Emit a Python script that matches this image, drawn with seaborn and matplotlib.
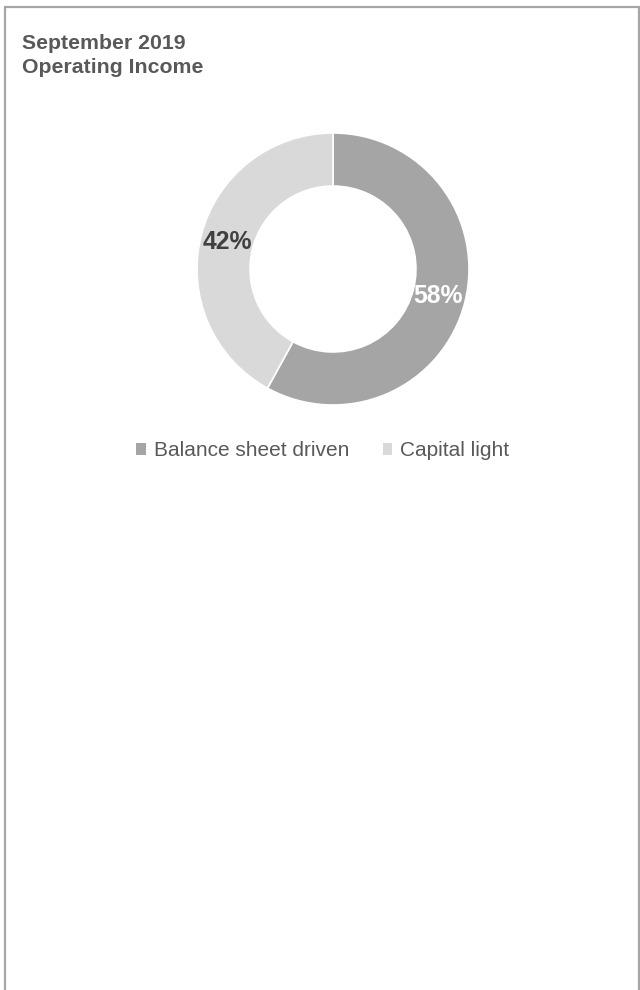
import matplotlib
matplotlib.use("Agg")
import matplotlib.pyplot as plt
from matplotlib.lines import Line2D
from matplotlib.patches import Rectangle
import seaborn as sns

sns.set_theme(style="white")
plt.rcParams['font.family'] = ['Liberation Sans', 'DejaVu Sans']

title_lines = ["September 2019", "Operating Income"]
categories = ["Balance sheet driven", "Capital light"]
values = [58, 42]
labels = ["58%", "42%"]
colors = ["#A5A5A5", "#D9D9D9"]
label_colors = ["#FFFFFF", "#404040"]

W, H, DPI = 640, 990, 100
fig = plt.figure(figsize=(W / DPI, H / DPI), dpi=DPI)
fig.patch.set_facecolor("white")

# frame (left, top, right; open at the bottom)
bc = "#A6A6A6"
fig.add_artist(Line2D([4.5 / W, 4.5 / W], [0, 1 - 7 / H], color=bc, lw=1.6))
fig.add_artist(Line2D([4.5 / W, 638.5 / W], [1 - 7 / H, 1 - 7 / H], color=bc, lw=1.6))
fig.add_artist(Line2D([638.5 / W, 638.5 / W], [0, 1 - 7 / H], color=bc, lw=1.6))

fig.text(22 / W, 1 - 49 / H, title_lines[0], fontsize=15.3, fontweight="bold", color="#595959")
fig.text(22 / W, 1 - 73 / H, title_lines[1], fontsize=15.3, fontweight="bold", color="#595959")

cx, cy, R = 333, 269, 136
ax = fig.add_axes([(cx - R) / W, 1 - (cy + R) / H, 2 * R / W, 2 * R / H])
wedges, texts = ax.pie(values, colors=colors, startangle=90, counterclock=False,
                       labels=labels, labeldistance=0.8,
                       wedgeprops=dict(width=0.39, edgecolor="white", linewidth=1.2),
                       textprops=dict(fontsize=17.8, fontweight="bold"))
for t, c in zip(texts, label_colors):
    t.set_color(c)
    t.set_ha("center")
    t.set_va("center")
ax.set_aspect("equal")
ax.set_xlim(-1, 1)
ax.set_ylim(-1, 1)
ax.axis("off")

handles = [Rectangle((0, 0), 1, 1, facecolor=c, edgecolor="none") for c in colors]
fig.legend(handles, categories, loc="center", bbox_to_anchor=(323 / W, 1 - 451 / H),
           ncol=2, frameon=False, fontsize=15, labelcolor="#595959",
           handlelength=0.45, handleheight=0.45, handletextpad=0.4, columnspacing=1.6)

fig.savefig("out.png", dpi=DPI, facecolor="white")
